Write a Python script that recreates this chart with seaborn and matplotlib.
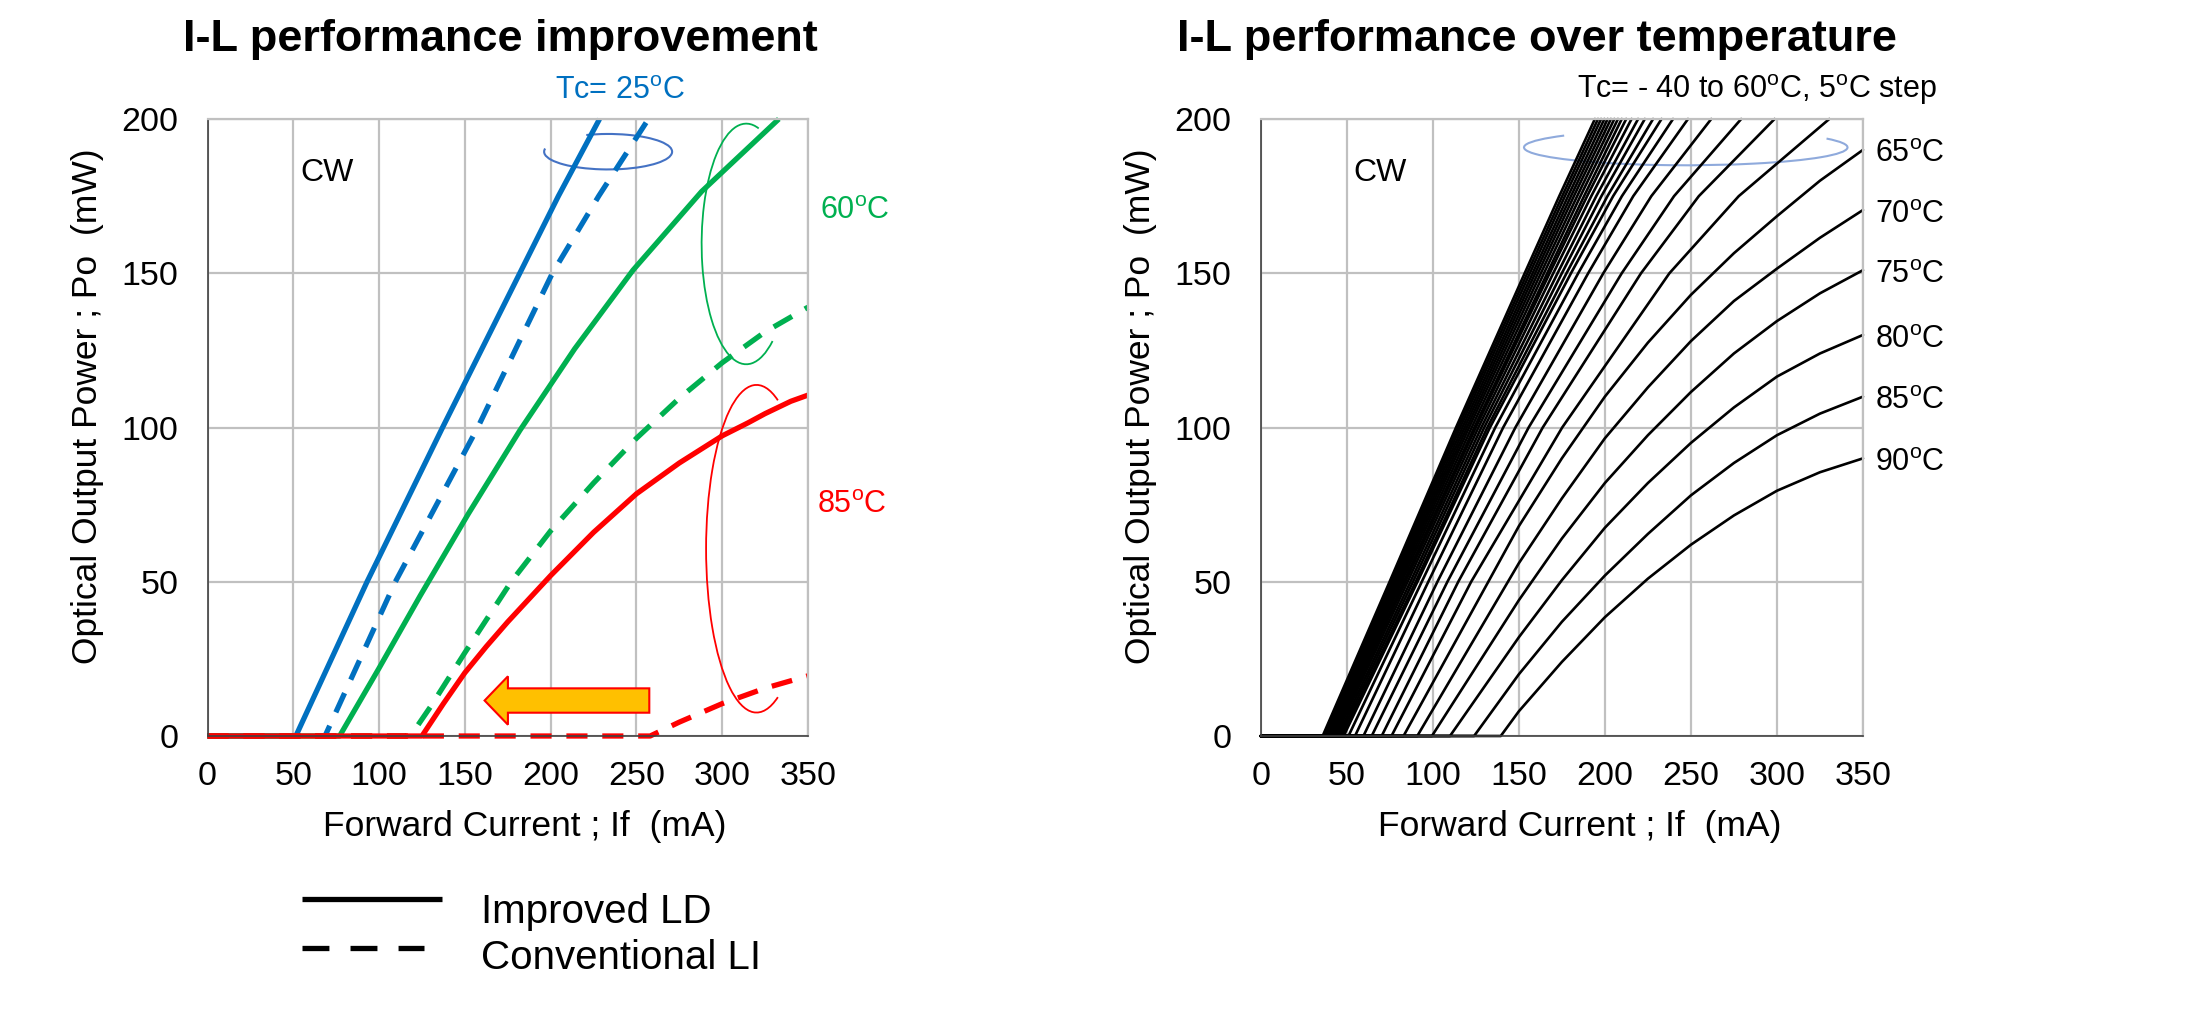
import pandas as pd
import seaborn as sns
from matplotlib import pyplot as plt
from matplotlib import patches as mpatches
from matplotlib.lines import Line2D
from matplotlib.ticker import MultipleLocator

# ---------------- left panel : improved vs conventional LD ----------------
blue_imp_ma = [0, 51.5, 93, 137, 182, 204.5, 228.5]
blue_imp_mw = [0, 0, 50, 100, 150, 175, 200]
blue_conv_ma = [0, 68.5, 109.5, 157.5, 201, 228, 257]
blue_conv_mw = [0, 0, 50, 100, 150, 175, 200]
green_imp_ma = [0, 77, 100, 124, 152, 182, 214, 248, 288, 333]
green_imp_mw = [0, 0, 22, 45.5, 72, 99, 125.5, 151, 176.5, 200]
green_conv_ma = [0, 116, 122, 130, 150, 177, 200, 225, 250, 275, 300, 325, 350]
green_conv_mw = [0, 0, 3, 9.5, 27, 50, 66.5, 82, 96.5, 109.5, 121, 131, 139]
red_imp_ma = [0, 125, 137.5, 150, 162.5, 175, 200, 225, 250, 275, 300, 315, 325, 340, 350]
red_imp_mw = [0, 0, 10.5, 20.5, 29, 37, 52, 66, 78.5, 88.5, 97.3, 101.5, 104.5, 108.5, 110.5]
red_conv_ma = [0, 258, 275, 300, 325, 350]
red_conv_mw = [0, 0, 4.5, 10.5, 15.5, 19.5]

# ---------------- right panel : -40 .. 90 C, 5 C step ----------------
# curves up to 60 C: current (mA) at which Po reaches 0/50/100/150/175/200 mW
cold_temps = [-40, -35, -30, -25, -20, -15, -10, -5, 0, 5, 10, 15, 20, 25,
              30, 35, 40, 45, 50, 55, 60]
cold_ith = [36.0, 36.6, 37.2, 37.9, 38.6, 39.3, 40.1, 40.9, 41.8, 42.7, 43.7,
            44.8, 45.9, 47.0, 48.2, 51.0, 54.8, 59.7, 64.5, 70.3, 76.0]
cold_i50 = [74.9, 75.8, 76.7, 77.7, 78.7, 79.7, 80.8, 81.9, 83.1, 84.1, 85.4,
            87.0, 88.5, 90.1, 91.1, 93.6, 97.4, 102.7, 108.5, 114.8, 122.3]
cold_i100 = [113.5, 114.7, 115.9, 117.2, 118.5, 119.8, 121.1, 122.6, 124.1,
             125.0, 126.5, 128.2, 129.9, 131.7, 133.2, 136.3, 140.9, 148.0,
             155.7, 163.9, 175.2]
cold_i150 = [153.4, 154.9, 156.4, 158.0, 159.5, 161.1, 162.8, 164.6, 166.5,
             167.9, 170.0, 172.5, 175.0, 177.7, 180.3, 184.5, 190.3, 199.1,
             209.8, 221.0, 237.5]
cold_i175 = [173.5, 175.2, 176.8, 178.6, 180.3, 182.0, 183.9, 185.8, 187.9,
             189.7, 192.1, 195.0, 198.0, 201.5, 204.8, 209.9, 216.5, 227.0,
             240.2, 254.6, 277.8]
cold_i200 = [194.2, 196.0, 197.8, 199.7, 201.6, 203.5, 205.5, 207.6, 209.8,
             212.4, 215.5, 219.3, 223.2, 228.0, 232.9, 239.6, 248.3, 261.8,
             279.2, 298.6, 330.4]
cold_levels_mw = [0, 50, 100, 150, 175, 200]

# curves 65..90 C: Po (mW) at fixed currents
hot_temps = [65, 70, 75, 80, 85, 90]
hot_ith = [83.0, 91.0, 99.5, 110.0, 124.0, 139.5]
hot_grid_ma = [150, 175, 200, 225, 250, 275, 300, 325, 350]
p_65c = [68, 90, 110, 127.5, 143, 156.5, 168.5, 180, 190]
p_70c = [56, 77, 96.5, 113, 128, 141, 151.5, 161.5, 170.5]
p_75c = [44, 64, 82, 97.5, 111.5, 124, 134.5, 143.5, 151]
p_80c = [32, 50.5, 67.5, 82, 95, 106.5, 116.5, 124, 130]
p_85c = [20, 37, 52, 65.5, 78, 88.5, 97.5, 104.5, 110]
p_90c = [8, 24, 38.5, 51, 62, 71.5, 79.5, 85.5, 90]
hot_p = [p_65c, p_70c, p_75c, p_80c, p_85c, p_90c]

W, H = 2210, 1030
BLUE, GREEN, RED = '#0070C0', '#00B050', '#FF0000'
DEG = r'$^{\mathrm{o}}$'

sns.set_theme(style='white')
plt.rcParams['font.family'] = ['Liberation Sans', 'DejaVu Sans']
plt.rcParams['mathtext.fontset'] = 'custom'
plt.rcParams['mathtext.rm'] = 'Liberation Sans'
plt.rcParams['mathtext.default'] = 'regular'
plt.rcParams['text.color'] = 'black'
plt.rcParams['axes.labelcolor'] = 'black'

# long-form tables for seaborn
rows = []
for tc, ld, xs, ys in [('25', 'Improved', blue_imp_ma, blue_imp_mw),
                       ('25', 'Conventional', blue_conv_ma, blue_conv_mw),
                       ('60', 'Improved', green_imp_ma, green_imp_mw),
                       ('60', 'Conventional', green_conv_ma, green_conv_mw),
                       ('85', 'Improved', red_imp_ma, red_imp_mw),
                       ('85', 'Conventional', red_conv_ma, red_conv_mw)]:
    for x, y in zip(xs, ys):
        rows.append({'tc': tc, 'ld': ld, 'current': x, 'power': y})
df_left = pd.DataFrame(rows)

rows = []
for k, t in enumerate(cold_temps):
    rows.append({'tc': t, 'current': 0, 'power': 0})
    cur = [cold_ith[k], cold_i50[k], cold_i100[k], cold_i150[k],
           cold_i175[k], cold_i200[k]]
    for x, y in zip(cur, cold_levels_mw):
        rows.append({'tc': t, 'current': x, 'power': y})
for k, t in enumerate(hot_temps):
    rows.append({'tc': t, 'current': 0, 'power': 0})
    rows.append({'tc': t, 'current': hot_ith[k], 'power': 0})
    for x, y in zip(hot_grid_ma, hot_p[k]):
        rows.append({'tc': t, 'current': x, 'power': y})
df_right = pd.DataFrame(rows)

fig = plt.figure(figsize=(W / 100, H / 100), dpi=100)
ax1 = fig.add_axes([207.5 / W, 1 - 736 / H, 600.5 / W, 617 / H])
ax2 = fig.add_axes([1260.7 / W, 1 - 736 / H, 602.3 / W, 617 / H])


def style_axes(ax):
    ax.set_xlim(0, 350)
    ax.set_ylim(0, 200)
    ax.xaxis.set_major_locator(MultipleLocator(50))
    ax.yaxis.set_major_locator(MultipleLocator(50))
    ax.xaxis.set_minor_locator(MultipleLocator(10))
    ax.yaxis.set_minor_locator(MultipleLocator(10))
    ax.grid(True, which='major', color='#C0C0C0', lw=1.6)
    ax.set_axisbelow(True)
    ax.tick_params(axis='both', which='both', direction='in', color='#404040',
                   width=1, labelsize=24.5, labelcolor='black')
    ax.tick_params(axis='x', which='both', length=4, pad=18)
    ax.tick_params(axis='y', which='both', length=6.5, pad=21)
    for side in ['top', 'right']:
        ax.spines[side].set_color('#C0C0C0')
        ax.spines[side].set_linewidth(1.6)
    for side in ['left', 'bottom']:
        ax.spines[side].set_color('#404040')
        ax.spines[side].set_linewidth(1.2)
    ax.set_xlabel('Forward Current ; If  (mA)', fontsize=25.5)
    ax.set_ylabel('Optical Output Power ; Po  (mW)', fontsize=25.5)
    ax.xaxis.set_label_coords(0.529, -0.12)
    ax.yaxis.set_label_coords(-0.172, 0.534)
    ax.text(54, 182.5, 'CW', fontsize=23, ha='left', va='center')


sns.lineplot(data=df_left, x='current', y='power', hue='tc', style='ld',
             hue_order=['25', '60', '85'], style_order=['Conventional', 'Improved'],
             palette={'25': BLUE, '60': GREEN, '85': RED},
             dashes={'Improved': '', 'Conventional': (4, 2.8)},
             estimator=None, sort=False, lw=3.8, legend=False, ax=ax1,
             clip_on=False, solid_capstyle='butt')
style_axes(ax1)

ax1.text(240.4, 209.2, 'Tc= 25' + DEG + 'C', color=BLUE, fontsize=22,
         ha='center', va='center', clip_on=False)
ax1.text(357, 170.3, '60' + DEG + 'C', color=GREEN, fontsize=22, va='center')
ax1.text(355, 75, '85' + DEG + 'C', color=RED, fontsize=22, va='center')

ax1.add_patch(mpatches.Arc((233.5, 189.4), 74.6, 11.5, theta1=178.4, theta2=517,
                           color='#4472C4', lw=1.5, clip_on=False))
ax1.add_patch(mpatches.Arc((314, 159.5), 52, 78, theta1=79, theta2=296,
                           color=GREEN, lw=1.3, clip_on=False))
ax1.add_patch(mpatches.Arc((320, 60.7), 58.8, 106.2, theta1=75.5, theta2=284.5,
                           color=RED, lw=1.3, clip_on=False))
ax1.add_patch(mpatches.FancyArrow(257.5, 11.5, -96, 0, width=7.9, head_width=15.7,
                                  head_length=13.6, length_includes_head=True,
                                  fc='#FFC000', ec=RED, lw=1.5, zorder=5))

sns.lineplot(data=df_right, x='current', y='power', units='tc', estimator=None,
             sort=False, color='black', lw=1.9, legend=False, ax=ax2, clip_on=False)
style_axes(ax2)
ax2.text(393, 209.4, 'Tc= - 40 to 60' + DEG + 'C, 5' + DEG + 'C step', fontsize=22,
         ha='right', va='center', clip_on=False)
for t, p in zip(hot_temps, hot_p):
    ax2.text(357, p[-1] - 1.5, f'{t}' + DEG + 'C', fontsize=22, va='center',
             clip_on=False)
ax2.add_patch(mpatches.Arc((247, 190.8), 188, 11.6, theta1=176.9, theta2=362,
                           color='#8FAADC', lw=1.5, clip_on=False))

fig.text(183 / W, 1 - 40 / H, 'I-L performance improvement', fontsize=32.5,
         fontweight='bold', ha='left', va='center')
fig.text(1177 / W, 1 - 40 / H, 'I-L performance over temperature', fontsize=32.5,
         fontweight='bold', ha='left', va='center')

# legend under the left panel
fig.add_artist(Line2D([302 / W, 442 / W], [1 - 899 / H] * 2, color='black', lw=3.8,
                      solid_capstyle='butt'))
fig.add_artist(Line2D([302 / W, 424 / W], [1 - 948 / H] * 2, color='black', lw=3.8,
                      dashes=(5.1, 4.0), dash_capstyle='butt'))
fig.text(480.8 / W, 1 - 911.7 / H, 'Improved LD', fontsize=29, va='center')
fig.text(480.8 / W, 1 - 957.7 / H, 'Conventional LI', fontsize=29, va='center')

fig.savefig('out.png', dpi=100)
